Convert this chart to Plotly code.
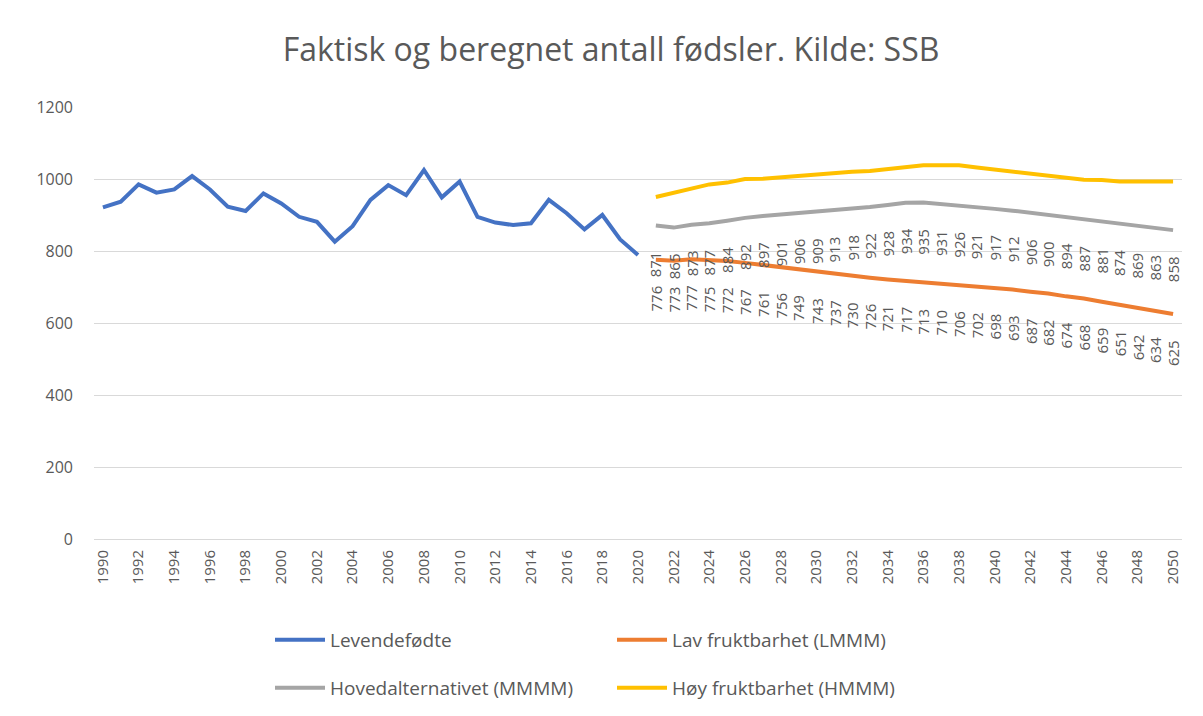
import plotly.graph_objects as go

hist_years = list(range(1990, 2021))
levendefodte = [921, 937, 985, 962, 971, 1008, 971, 923, 911, 960,
                932, 895, 881, 826, 869, 942, 983, 955, 1025, 949,
                993, 895, 879, 872, 877, 942, 905, 860, 900, 832, 789]

proj_years = list(range(2021, 2051))
lav = [776, 773, 777, 775, 772, 767, 761, 756, 749, 743,
       737, 730, 726, 721, 717, 713, 710, 706, 702, 698,
       693, 687, 682, 674, 668, 659, 651, 642, 634, 625]
hoved = [871, 865, 873, 877, 884, 892, 897, 901, 906, 909,
         913, 918, 922, 928, 934, 935, 931, 926, 921, 917,
         912, 906, 900, 894, 887, 881, 874, 869, 863, 858]
hoy = [950, 962, 972, 985, 990, 1000, 1001, 1005, 1009, 1011,
       1015, 1020, 1022, 1027, 1033, 1038, 1038, 1038, 1032, 1026,
       1020, 1015, 1009, 1003, 998, 997, 993, 993, 993, 993]

xticks = list(range(1990, 2051, 2))

GREY_TXT = "#595959"
FONT = "Open Sans"

fig = go.Figure()
fig.add_trace(go.Scatter(x=hist_years, y=levendefodte, mode="lines", name="Levendefødte",
                         line=dict(color="#4472C4", width=4), legend="legend"))
fig.add_trace(go.Scatter(x=proj_years, y=lav, mode="lines", name="Lav fruktbarhet (LMMM)",
                         line=dict(color="#ED7D31", width=4), legend="legend"))
fig.add_trace(go.Scatter(x=proj_years, y=hoved, mode="lines", name="Hovedalternativet (MMMM)",
                         line=dict(color="#A5A5A5", width=4), legend="legend2"))
fig.add_trace(go.Scatter(x=proj_years, y=hoy, mode="lines", name="Høy fruktbarhet (HMMM)",
                         line=dict(color="#FFC000", width=4), legend="legend2"))

annotations = []
for series in (lav, hoved):
    for yr, v in zip(proj_years, series):
        annotations.append(dict(x=yr, y=v, xref="x", yref="y", text=str(v), showarrow=False,
                                textangle=-90, xanchor="center", yanchor="top", yshift=-24,
                                font=dict(family=FONT, size=15, color=GREY_TXT)))

fig.update_layout(
    width=1203, height=716,
    paper_bgcolor="white", plot_bgcolor="white",
    margin=dict(l=86, r=29, t=99, b=185, autoexpand=False),
    title=dict(text="Faktisk og beregnet antall fødsler. Kilde: SSB", x=603 / 1203, xanchor="center",
               xref="container", y=1 - 42 / 716, yanchor="middle",
               font=dict(family=FONT, size=32, color=GREY_TXT)),
    xaxis=dict(range=[1989.5, 2050.5], tickmode="array", tickvals=xticks,
               ticktext=[str(t) for t in xticks], tickangle=-90, showgrid=False,
               zeroline=False, showline=True, linecolor="#d9d9d9", linewidth=1,
               tickfont=dict(family=FONT, size=15, color=GREY_TXT), ticks="", ticklabelstandoff=4),
    yaxis=dict(range=[0, 1200], dtick=200, showgrid=True, gridcolor="#d9d9d9", gridwidth=1,
               zeroline=False, showline=False, ticks="", ticklabelstandoff=20,
               tickfont=dict(family=FONT, size=16, color=GREY_TXT)),
    legend=dict(orientation="h", xref="container", yref="container", x=262 / 1203, xanchor="left",
                y=1 - 613 / 716, yanchor="top", entrywidth=277, itemwidth=50,
                font=dict(family=FONT, size=19, color=GREY_TXT), bgcolor="rgba(0,0,0,0)"),
    legend2=dict(orientation="h", xref="container", yref="container", x=262 / 1203, xanchor="left",
                 y=1 - 661 / 716, yanchor="top", entrywidth=277, itemwidth=50,
                 font=dict(family=FONT, size=19, color=GREY_TXT), bgcolor="rgba(0,0,0,0)"),
    annotations=annotations,
    showlegend=True,
)

fig.write_html("out.html")
